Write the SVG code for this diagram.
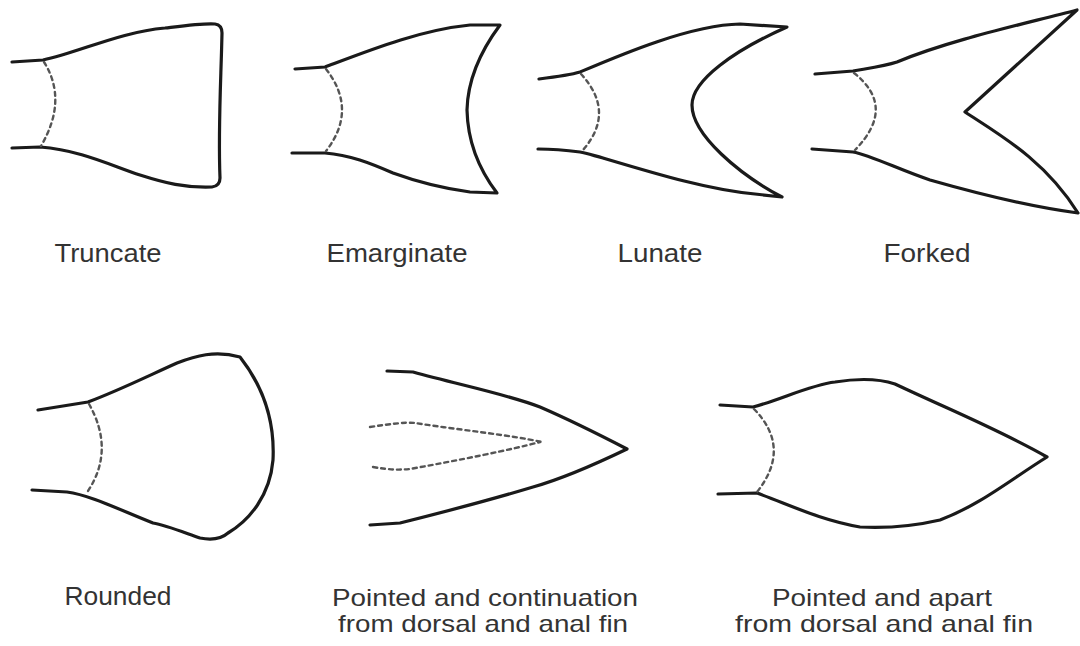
<svg xmlns="http://www.w3.org/2000/svg" width="1080" height="646" viewBox="0 0 1080 646">
  <style>
    .fin { fill: none; stroke: #1a1a1a; stroke-width: 3.2; stroke-linecap: round; stroke-linejoin: round; }
    .ray { fill: none; stroke: #555; stroke-width: 2.4; stroke-dasharray: 4 4; stroke-linecap: round; }
    .lbl { font-family: "Liberation Sans", Arial, sans-serif; font-size: 26px; fill: #333; text-anchor: middle; }
    .lbl2 { font-family: "Liberation Sans", Arial, sans-serif; font-size: 24px; fill: #333; text-anchor: middle; }
  </style>
  <rect width="1080" height="646" fill="#fff"/>

  <!-- Caudal fin shapes, top row -->
  <g id="truncate">
    <path class="fin" d="M12,62 L43,60 C80,52 120,32 165,28 C190,25 205,23 215,24 Q222,25 222,33 C221,80 218,130 220,178 Q220,186 212,187 C185,188 165,183 140,175 C110,165 80,150 40,147 L12,148"/>
    <path class="ray" d="M44,62 Q68,100 41,146"/>
    <text class="lbl" x="108" y="262" textLength="107" lengthAdjust="spacingAndGlyphs">Truncate</text>
  </g>

  <g id="emarginate">
    <path class="fin" d="M295,69 L325,67 C370,50 420,30 470,25 L500,25 Q468,68 467,110 Q468,155 497,193 L470,192 C440,188 415,181 393,173 C370,163 350,155 325,153 L292,153"/>
    <path class="ray" d="M326,69 Q358,110 326,151"/>
    <text class="lbl" x="397" y="262" textLength="141" lengthAdjust="spacingAndGlyphs">Emarginate</text>
  </g>

  <g id="lunate">
    <path class="fin" d="M539,79 C555,77 570,75 580,72 C620,55 690,25 740,24 L787,27 C735,50 692,80 692,105 C692,135 740,175 782,197 L755,194 C710,190 660,175 603,158 C592,155 586,153 580,152 C565,150 550,149 538,149"/>
    <path class="ray" d="M581,74 Q616,112 583,150"/>
    <text class="lbl" x="660" y="262" textLength="85" lengthAdjust="spacingAndGlyphs">Lunate</text>
  </g>

  <g id="forked">
    <path class="fin" d="M815,74 L853,71 C870,68 885,66 897,62 C950,40 1020,25 1077,10 L965,112 C1000,135 1045,160 1078,213 C1040,208 1000,200 930,180 C900,170 870,155 853,152 L812,149"/>
    <path class="ray" d="M854,73 Q897,107 855,150"/>
    <text class="lbl" x="927" y="262" textLength="87" lengthAdjust="spacingAndGlyphs">Forked</text>
  </g>

  <!-- Caudal fin shapes, bottom row -->
  <g id="rounded">
    <path class="fin" d="M38,410 L88,402 C120,390 150,375 177,363 C195,356 215,350 240,357 C262,385 275,420 273,460 C270,495 250,520 228,533 C220,540 210,540 200,538 C180,531 165,525 153,523 C120,510 90,495 67,492 L32,490"/>
    <path class="ray" d="M89,404 Q115,450 88,491"/>
    <text class="lbl" x="118" y="605" textLength="107" lengthAdjust="spacingAndGlyphs">Rounded</text>
  </g>

  <g id="pointed-continuous">
    <path class="fin" d="M387,371 L413,372 C460,385 510,395 540,407 C570,420 600,435 627,449 C600,462 565,478 533,487 C490,500 440,513 400,523 L370,525"/>
    <path class="ray" d="M370,427 C390,424 405,422 415,423 C460,430 510,435 542,442"/>
    <path class="ray" d="M373,467 C390,470 400,470 410,469 C460,460 510,450 540,442"/>
    <text class="lbl2"><tspan x="485" y="606" textLength="306" lengthAdjust="spacingAndGlyphs">Pointed and continuation</tspan><tspan x="483" y="632" textLength="290" lengthAdjust="spacingAndGlyphs">from dorsal and anal fin</tspan></text>
  </g>

  <g id="pointed-apart">
    <path class="fin" d="M720,405 L753,407 C780,400 810,385 835,382 C860,378 880,379 895,384 C950,410 1000,430 1047,457 C1010,480 980,505 940,520 C910,527 880,528 860,527 C820,520 790,505 757,493 L718,494"/>
    <path class="ray" d="M754,409 Q792,448 757,492"/>
    <text class="lbl2"><tspan x="882" y="606" textLength="220" lengthAdjust="spacingAndGlyphs">Pointed and apart</tspan><tspan x="884" y="632" textLength="298" lengthAdjust="spacingAndGlyphs">from dorsal and anal fin</tspan></text>
  </g>
</svg>
